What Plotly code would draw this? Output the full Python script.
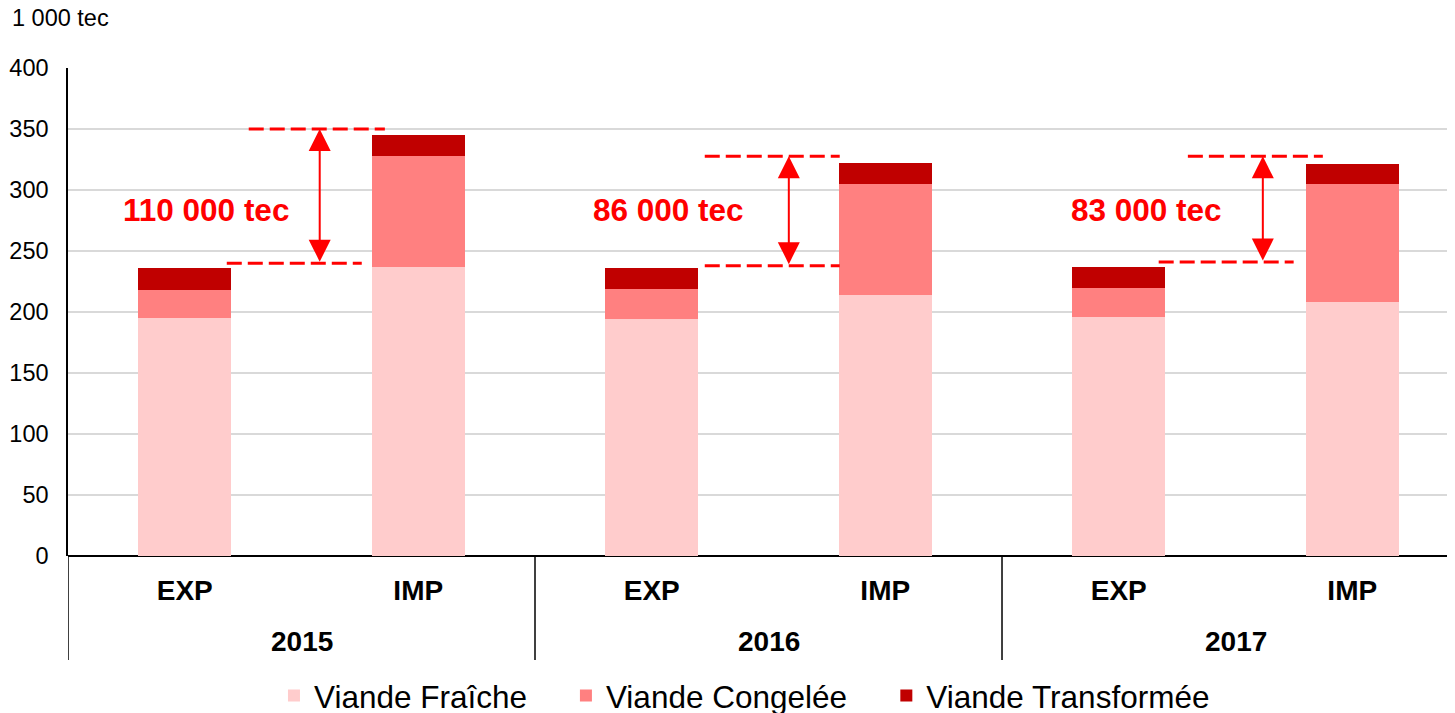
import plotly.graph_objects as go

# ---- data ----
years = ["2015", "2016", "2017"]
flows = ["EXP", "IMP"]
categories = ["EXP", "IMP", "EXP", "IMP", "EXP", "IMP"]
series_names = ["Viande Fraîche", "Viande Congelée", "Viande Transformée"]
fraiche = [195, 237, 194, 214, 196, 208]
congelee = [23, 91, 25, 91, 24, 97]
transformee = [18, 17, 17, 17, 17, 16]
y_ticks = [0, 50, 100, 150, 200, 250, 300, 350, 400]
gap_labels = ["110 000 tec", "86 000 tec", "83 000 tec"]
gap_high = [350, 327.6, 327.6]
gap_low = [240, 238, 241]

FONT = "Liberation Sans, Arial, sans-serif"
RED = "#FF0000"
xpos = list(range(len(categories)))
colors = ["#FFCCCC", "#FF8080", "#C00000"]
legend_ids = ["legend", "legend2", "legend3"]
legend_x = [0.1485, 0.359, 0.590]

fig = go.Figure()
for name, vals, col, lg in zip(series_names, [fraiche, congelee, transformee], colors, legend_ids):
    fig.add_trace(go.Bar(x=xpos, y=vals, name=name, marker_color=col,
                         marker_line_width=0, width=0.4, legend=lg))

shapes = []
annotations = []
# group dividers below axis
for b in [-0.5, 1.5, 3.5]:
    shapes.append(dict(type="line", xref="x", yref="paper", x0=b, x1=b,
                       y0=0, y1=-0.213, line=dict(color="black", width=1.5)))
# year labels
for i, yr in enumerate(years):
    annotations.append(dict(x=2 * i + 0.5, y=-0.176, xref="x", yref="paper",
                            text="<b>%s</b>" % yr, showarrow=False,
                            font=dict(family=FONT, size=28, color="black"),
                            yanchor="middle"))

# gap indications
upper_x = [(0.274, 0.857), (2.227, 2.805), (4.296, 4.874)]
lower_x = [(0.18, 0.758), (2.227, 2.805), (4.171, 4.749)]
arrow_x = [0.578, 2.587, 4.617]
label_x = [0.09, 2.07, 4.12]
for i in range(3):
    shapes.append(dict(type="line", xref="x", yref="y", x0=upper_x[i][0], x1=upper_x[i][1],
                       y0=gap_high[i], y1=gap_high[i],
                       line=dict(color=RED, width=3, dash="15px,6px")))
    shapes.append(dict(type="line", xref="x", yref="y", x0=lower_x[i][0], x1=lower_x[i][1],
                       y0=gap_low[i], y1=gap_low[i],
                       line=dict(color=RED, width=3, dash="15px,6px")))
    annotations.append(dict(x=arrow_x[i], y=gap_high[i], ax=arrow_x[i], ay=gap_low[i],
                            xref="x", yref="y", axref="x", ayref="y", text="",
                            showarrow=True, arrowhead=2, arrowside="end+start",
                            arrowsize=2.2, arrowwidth=2, arrowcolor=RED,
                            startarrowhead=2, startarrowsize=2.2))
    annotations.append(dict(x=label_x[i], y=284, xref="x", yref="y",
                            text="<b>%s</b>" % gap_labels[i], showarrow=False,
                            font=dict(family=FONT, size=31.5, color=RED)))

annotations.append(dict(x=-0.0415, y=1.1025, xref="paper", yref="paper",
                        text="1 000 tec", showarrow=False, xanchor="left",
                        yanchor="middle", font=dict(family=FONT, size=23.5, color="black")))

legend_style = dict(orientation="h", xanchor="left", y=-0.286, yanchor="middle",
                    font=dict(family=FONT, size=31.5, color="black"),
                    itemwidth=30, bgcolor="rgba(0,0,0,0)")

fig.update_layout(
    barmode="stack",
    width=1447, height=705,
    paper_bgcolor="white", plot_bgcolor="white",
    margin=dict(l=60, r=0, t=60, b=157, autoexpand=False),
    font=dict(family=FONT, color="black"),
    shapes=shapes,
    annotations=annotations,
    showlegend=True,
    legend=dict(x=legend_x[0], **legend_style),
    legend2=dict(x=legend_x[1], **legend_style),
    legend3=dict(x=legend_x[2], **legend_style),
)
fig.update_xaxes(range=[-0.5, 5.44], tickmode="array", tickvals=xpos,
                 ticktext=["<b>%s</b>" % c for c in categories],
                 tickfont=dict(family=FONT, size=28, color="black"),
                 showgrid=False, zeroline=False, showline=False, ticks="",
                 ticklabelstandoff=15)
fig.update_yaxes(range=[0, 400], tickmode="array", tickvals=y_ticks,
                 tickfont=dict(family=FONT, size=23.5, color="black"),
                 showgrid=True, gridcolor="#D9D9D9", gridwidth=1.5,
                 zeroline=True, zerolinecolor="black", zerolinewidth=2,
                 showline=True, linecolor="black", linewidth=1.5,
                 ticks="", ticklabelstandoff=13)

fig.write_html("out.html")
